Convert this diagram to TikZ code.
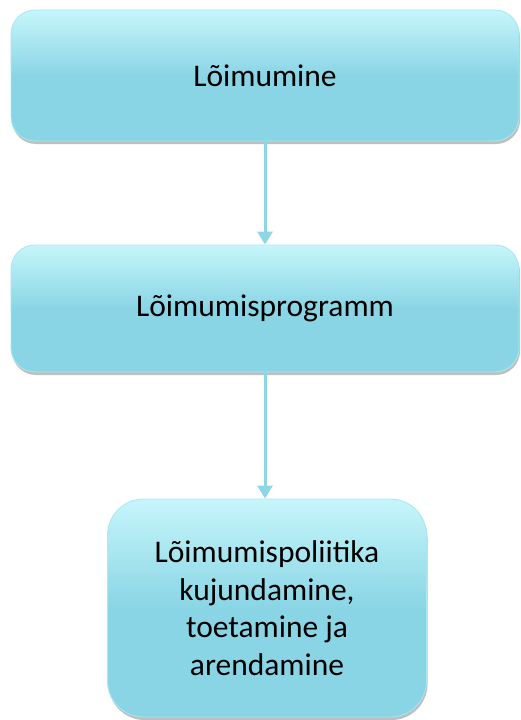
\documentclass[tikz,border=0pt]{standalone}
\usepackage{fontspec}
\setmainfont{Carlito}
\usetikzlibrary{arrows.meta,shadows}
\definecolor{boxfill}{HTML}{8AD5E5}
\definecolor{boxtop}{HTML}{C6F6FB}
\definecolor{boxedge}{HTML}{A8E8F2}
\definecolor{arrowc}{HTML}{8DD6E6}
\tikzset{
  flowbox/.style={draw=boxedge, line width=0.8pt, top color=boxtop, bottom color=boxfill, middle color=boxfill,
    drop shadow={shadow xshift=1pt, shadow yshift=-3pt, fill=black, opacity=0.25},
    align=center, font=\fontsize{31.5}{37.5}\selectfont, text=black, inner sep=0pt},
  flowarrow/.style={draw=arrowc, line width=3pt, -{Triangle[width=15pt,length=13pt]}, arrowc}
}
\begin{document}
\begin{tikzpicture}[x=1pt,y=-1pt]
\useasboundingbox (0,0) rectangle (520,720);
\node[flowbox, rounded corners=24pt, minimum width=508pt, minimum height=131pt] (a) at (265,75.5) {Lõimumine};
\node[flowbox, rounded corners=24pt, minimum width=508pt, minimum height=127pt] (b) at (265,308.5) {Lõimumisprogramm};
\node[flowbox, rounded corners=36pt, minimum width=319pt, minimum height=218pt] (c) at (267,608) {Lõimumispoliitika\\kujundamine,\\toetamine ja\\arendamine};
\draw[flowarrow] (a.south -| 265,0) -- (b.north -| 265,0);
\draw[flowarrow] (b.south -| 265,0) -- (c.north -| 265,0);
\end{tikzpicture}
\end{document}
